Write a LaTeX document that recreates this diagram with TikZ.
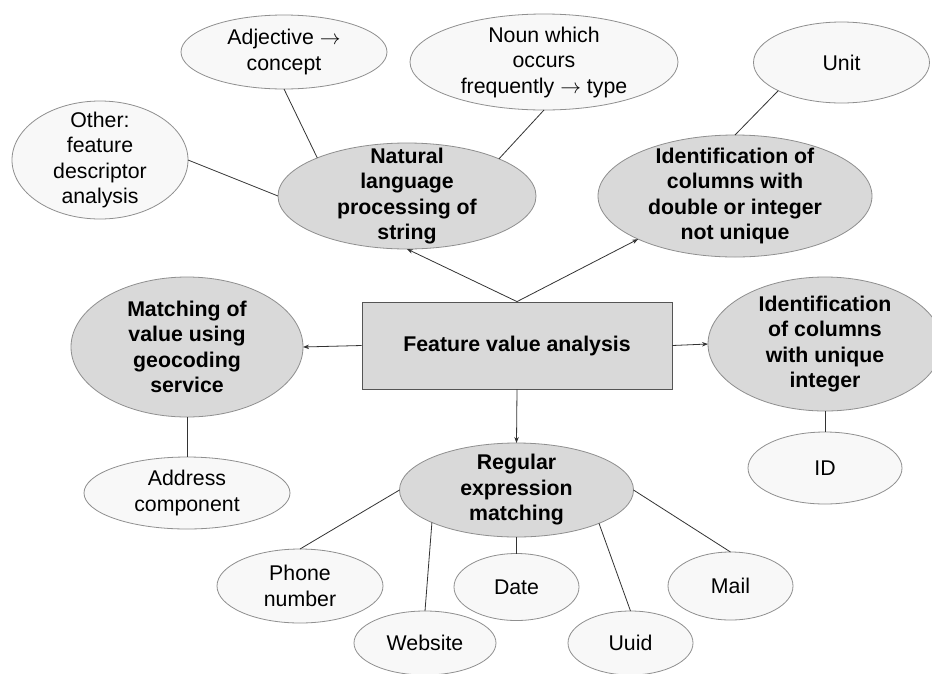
\documentclass[tikz,border=0pt]{standalone}
\usepackage{fontspec}
\setmainfont{Liberation Sans}
\usetikzlibrary{shapes.geometric,arrows.meta}
\definecolor{boxgray}{HTML}{D9D9D9}
\definecolor{paleoval}{HTML}{F8F8F8}
\definecolor{ovalline}{HTML}{8F8F8F}
\definecolor{rectline}{HTML}{555555}
\definecolor{linkcol}{HTML}{333333}
\newcommand{\toarrow}{\ensuremath{\rightarrow}}
\tikzset{
  base/.style={ellipse, inner sep=0pt, outer sep=0pt, draw=ovalline, line width=0.8pt},
  mainoval/.style={base, fill=boxgray},
  leafoval/.style={base, fill=paleoval},
  sz/.style 2 args={minimum width=#1pt, minimum height=#2pt},
  txt/.style={align=center, inner sep=0pt, font=\fontsize{21.3}{25.5}\selectfont},
  btxt/.style={align=center, inner sep=0pt, font=\fontsize{21.3}{25.5}\selectfont\bfseries},
  link/.style={draw=linkcol, line width=0.8pt},
  arr/.style={link, -{Stealth[length=6pt,width=4.5pt]}},
}
\begin{document}
\begin{tikzpicture}[x=1pt, y=-1pt]
\useasboundingbox (0,0) rectangle (932,673);
\fill[white] (0,0) rectangle (932,673);

% central box
\node[draw=rectline, fill=boxgray, line width=0.8pt, minimum width=310pt, minimum height=87pt, inner sep=0pt,
      font=\fontsize{21.3}{25.5}\selectfont\bfseries] (rect) at (517,345.5) {Feature value analysis};

% main ovals
\node[mainoval, sz={258}{106}] (nat) at (407,196) {};
\node[btxt] (natT) at (nat.center) {Natural\\language\\processing of\\string};
\node[mainoval, sz={274}{122}] (dbl) at (735,196) {};
\node[btxt] (dblT) at (dbl.center) {Identification of\\columns with\\double or integer\\not unique};
\node[mainoval, sz={232}{140}] (match) at (187,347) {};
\node[btxt] (matchT) at (match.center) {Matching of\\value using\\geocoding\\service};
\node[mainoval, sz={234}{134}] (uniq) at (825,344) {};
\node[btxt] (uniqT) at (uniq.center) {Identification\\of columns\\with unique\\integer};
\node[mainoval, sz={234}{94}] (regex) at (516.5,490) {};
\node[btxt] (regexT) at (regex.center) {Regular\\expression\\matching};

% leaf ovals
\node[leafoval, sz={206}{74}] (adj) at (284,52) {};
\node[txt] (adjT) at (adj.center) {Adjective \toarrow\\concept};
\node[leafoval, sz={268}{96}] (noun) at (544,62) {};
\node[txt] (nounT) at (noun.center) {Noun which\\occurs\\frequently \toarrow{} type};
\node[leafoval, sz={176}{81}] (unit) at (841.5,62.5) {};
\node[txt] (unitT) at (unit.center) {Unit};
\node[leafoval, sz={176}{118}] (other) at (100,160) {};
\node[txt] (otherT) at (other.center) {Other:\\feature\\descriptor\\analysis};
\node[leafoval, sz={206}{72}] (addr) at (187,493) {};
\node[txt] (addrT) at (addr.center) {Address\\component};
\node[leafoval, sz={154}{72}] (id) at (825,468) {};
\node[txt] (idT) at (id.center) {ID};
\node[leafoval, sz={166}{74}] (phone) at (300,586) {};
\node[txt] (phoneT) at (phone.center) {Phone\\number};
\node[leafoval, sz={142}{64}] (web) at (425,643) {};
\node[txt] (webT) at (web.center) {Website};
\node[leafoval, sz={125}{67}] (date) at (516.5,587) {};
\node[txt] (dateT) at (date.center) {Date};
\node[leafoval, sz={125}{64}] (uuid) at (630.5,643) {};
\node[txt] (uuidT) at (uuid.center) {Uuid};
\node[leafoval, sz={125}{68}] (mail) at (730.5,586) {};
\node[txt] (mailT) at (mail.center) {Mail};

% arrows from the central box
\draw[arr] (rect.north) -- (nat.south);
\draw[arr] (rect.north) -- (dbl.204);
\draw[arr] (rect.west) -- (match.east);
\draw[arr] (rect.east) -- (uniq.west);
\draw[arr] (rect.south) -- (regex.north);

% plain links
\draw[link] (nat.157.7) -- (adj.south);
\draw[link] (nat.west) -- (other.east);
\draw[link] (nat.22.3) -- (noun.south);
\draw[link] (dbl.north) -- (unit.204.4);
\draw[link] (match.south) -- (addr.north);
\draw[link] (uniq.south) -- (id.north);
\draw[link] (regex.west) -- (phone.north);
\draw[link] (regex.201.9) -- (web.north);
\draw[link] (regex.south) -- (date.north);
\draw[link] (regex.338.1) -- (uuid.north);
\draw[link] (regex.east) -- (mail.north);
\end{tikzpicture}
\end{document}
